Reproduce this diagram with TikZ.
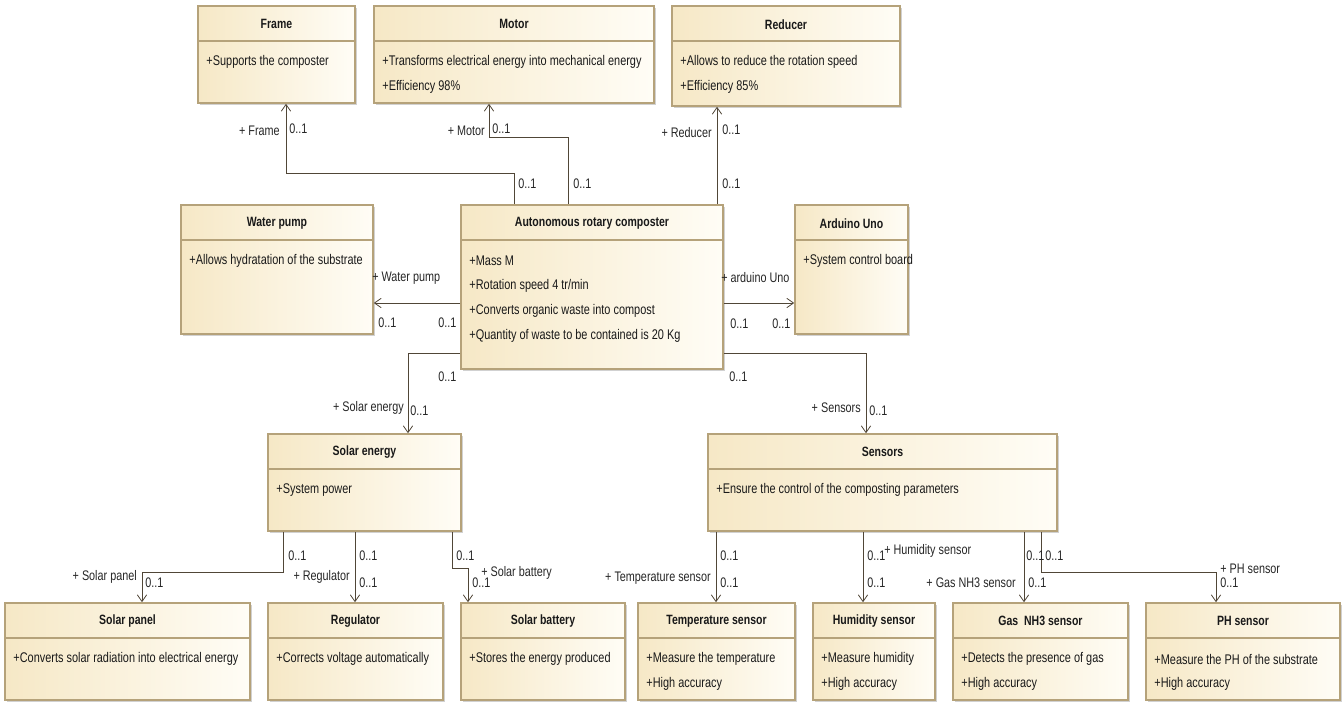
\documentclass[tikz,border=0pt]{standalone}
\usepackage{fontspec}
\setmainfont[FakeStretch=0.78]{Liberation Sans}
\usetikzlibrary{arrows.meta,calc,fit,shadows}
\definecolor{clsL}{RGB}{246,232,198}
\definecolor{clsR}{RGB}{255,253,246}
\definecolor{clsB}{RGB}{181,162,122}
\definecolor{lineC}{RGB}{80,70,55}
\tikzset{
  cls/.style={draw=clsB, line width=1.2pt, left color=clsL, right color=clsR, inner sep=0pt,
    drop shadow={shadow xshift=1.5pt, shadow yshift=-1.5pt, fill=black!30, opacity=0.6}},
  clsline/.style={draw=clsB, line width=1.2pt},
  ttl/.style={font=\fontsize{10.1}{12}\selectfont\bfseries, inner sep=0pt, text=black!90},
  attr/.style={font=\fontsize{10.5}{12}\selectfont, inner sep=0pt, anchor=west, text=black!90},
  lbl/.style={font=\fontsize{10.4}{12}\selectfont, inner sep=0pt, text=black!85},
  assoc/.style={draw=lineC, line width=0.6pt, -{Straight Barb[length=5pt,width=7pt]}},
}
\newcommand\umlbox[7]{%
  \node[cls, fit={(#2,#3) (#4,#5)}] (#1) {};
  \node[ttl] (#1-t) at ($(#1.north)+(0,19)$) {#6};
  \draw[clsline] ($(#1.north west)+(0,36)$) -- ($(#1.north east)+(0,36)$);
  \foreach \a [count=\i] in {#7} {\node[attr] (#1-a\i) at ($(#1.north west)+(9,32+25*\i)$) {\a};}
}
\begin{document}
\begin{tikzpicture}[x=0.75pt,y=-0.75pt]
\useasboundingbox (0,0) rectangle (1342,702);
\umlbox{frame}{198}{6}{355}{103}{Frame}{+Supports the composter}
\umlbox{motor}{374}{6}{654}{103}{Motor}{+Transforms electrical energy into mechanical energy,+Efficiency 98\%}
\umlbox{reducer}{672}{6}{900}{106}{Reducer}{+Allows to reduce the rotation speed,+Efficiency 85\%}
\umlbox{water}{181}{205}{373}{334}{Water pump}{+Allows hydratation of the substrate}
\umlbox{auto}{461}{205}{723}{369}{Autonomous rotary composter}{+Mass M,+Rotation speed 4 tr/min,+Converts organic waste into compost,+Quantity of waste to be contained is 20 Kg}
\umlbox{arduino}{795}{205}{908}{334}{Arduino Uno}{+System control board}
\umlbox{solar}{268}{434}{461}{531}{Solar energy}{+System power}
\umlbox{sensors}{708}{434}{1057}{531}{Sensors}{+Ensure the control of the composting parameters}
\umlbox{panel}{5}{603}{250}{700}{Solar panel}{+Converts solar radiation into electrical energy}
\umlbox{regulator}{268}{603}{443}{700}{Regulator}{+Corrects voltage automatically}
\umlbox{battery}{461}{603}{625}{700}{Solar battery}{+Stores the energy produced}
\umlbox{temp}{638}{603}{795}{700}{Temperature sensor}{+Measure the temperature,+High accuracy}
\umlbox{humid}{813}{603}{935}{700}{Humidity sensor}{+Measure humidity,+High accuracy}
\umlbox{gas}{953}{603}{1128}{700}{Gas\ \ NH3 sensor}{+Detects the presence of gas,+High accuracy}
\umlbox{ph}{1146}{603}{1340}{700}{PH sensor}{+Measure the PH of the substrate,+High accuracy}

% coordinates
\coordinate (fA) at (514,173); \coordinate (fB) at (286,173);
\coordinate (mA) at (568,137); \coordinate (mB) at (489,137);
\coordinate (rA) at (717,0);
\coordinate (wA) at (0,303);
\coordinate (sA) at (408,353);
\coordinate (nA) at (866,353);
\coordinate (pA) at (283,572); \coordinate (pB) at (142,572);
\coordinate (gA) at (355,0);
\coordinate (bA) at (452,568); \coordinate (bB) at (468,568);
\coordinate (tA) at (716,0);
\coordinate (hA) at (863,0);
\coordinate (gsA) at (1024,0);
\coordinate (phA) at (1041,572); \coordinate (phB) at (1216,572);

% connectors
\draw[assoc] (auto.north -| fA) -- (fA) -- (fB) -- (frame.south -| fB);
\draw[assoc] (auto.north -| mA) -- (mA) -- (mB) -- (motor.south -| mB);
\draw[assoc] (auto.north -| rA) -- (reducer.south -| rA);
\draw[assoc] (auto.west |- wA) -- (water.east |- wA);
\draw[assoc] (auto.east |- wA) -- (arduino.west |- wA);
\draw[assoc] (auto.west |- sA) -- (sA) -- (solar.north -| sA);
\draw[assoc] (auto.east |- nA) -- (nA) -- (sensors.north -| nA);
\draw[assoc] (solar.south -| pA) -- (pA) -- (pB) -- (panel.north -| pB);
\draw[assoc] (solar.south -| gA) -- (regulator.north -| gA);
\draw[assoc] (solar.south -| bA) -- (bA) -- (bB) -- (battery.north -| bB);
\draw[assoc] (sensors.south -| tA) -- (temp.north -| tA);
\draw[assoc] (sensors.south -| hA) -- (humid.north -| hA);
\draw[assoc] (sensors.south -| gsA) -- (gas.north -| gsA);
\draw[assoc] (sensors.south -| phA) -- (phA) -- (phB) -- (ph.north -| phB);

% labels
\node[lbl, anchor=east] (l1) at (280,131) {+ Frame};
\node[lbl, anchor=west] (l2) at (289,129) {0..1};
\node[lbl, anchor=west] (l3) at (518,184) {0..1};
\node[lbl, anchor=east] (l4) at (485,131) {+ Motor};
\node[lbl, anchor=west] (l5) at (492,129) {0..1};
\node[lbl, anchor=west] (l6) at (573,184) {0..1};
\node[lbl, anchor=east] (l7) at (712,133) {+ Reducer};
\node[lbl, anchor=west] (l8) at (722,130) {0..1};
\node[lbl, anchor=west] (l9) at (722,184) {0..1};
\node[lbl, anchor=west] (l10) at (372,278) {+ Water pump};
\node[lbl, anchor=west] (l11) at (378,323) {0..1};
\node[lbl, anchor=west] (l12) at (438,323) {0..1};
\node[lbl, anchor=west] (l13) at (721,278) {+ arduino Uno};
\node[lbl, anchor=west] (l14) at (730,324) {0..1};
\node[lbl, anchor=west] (l15) at (772,324) {0..1};
\node[lbl, anchor=west] (l16) at (438,377) {0..1};
\node[lbl, anchor=east] (l17) at (404,408) {+ Solar energy};
\node[lbl, anchor=west] (l18) at (410,411) {0..1};
\node[lbl, anchor=west] (l19) at (729,377) {0..1};
\node[lbl, anchor=east] (l20) at (861,408) {+ Sensors};
\node[lbl, anchor=west] (l21) at (869,411) {0..1};
\node[lbl, anchor=west] (l22) at (288,556) {0..1};
\node[lbl, anchor=east] (l23) at (137,577) {+ Solar panel};
\node[lbl, anchor=west] (l24) at (145,583) {0..1};
\node[lbl, anchor=west] (l25) at (359,556) {0..1};
\node[lbl, anchor=east] (l26) at (350,577) {+ Regulator};
\node[lbl, anchor=west] (l27) at (359,583) {0..1};
\node[lbl, anchor=west] (l28) at (456,556) {0..1};
\node[lbl, anchor=west] (l29) at (481,573) {+ Solar battery};
\node[lbl, anchor=west] (l30) at (472,583) {0..1};
\node[lbl, anchor=west] (l31) at (720,556) {0..1};
\node[lbl, anchor=east] (l32) at (711,578) {+ Temperature sensor};
\node[lbl, anchor=west] (l33) at (720,583) {0..1};
\node[lbl, anchor=west] (l34) at (867,556) {0..1};
\node[lbl, anchor=west] (l35) at (884,551) {+ Humidity sensor};
\node[lbl, anchor=west] (l36) at (867,583) {0..1};
\node[lbl, anchor=west] (l37) at (1026,556) {0..1};
\node[lbl, anchor=east] (l38) at (1016,583) {+ Gas NH3 sensor};
\node[lbl, anchor=west] (l39) at (1028,583) {0..1};
\node[lbl, anchor=west] (l40) at (1045,556) {0..1};
\node[lbl, anchor=west] (l41) at (1220,569) {+ PH sensor};
\node[lbl, anchor=west] (l42) at (1220,583) {0..1};
\end{tikzpicture}
\end{document}
